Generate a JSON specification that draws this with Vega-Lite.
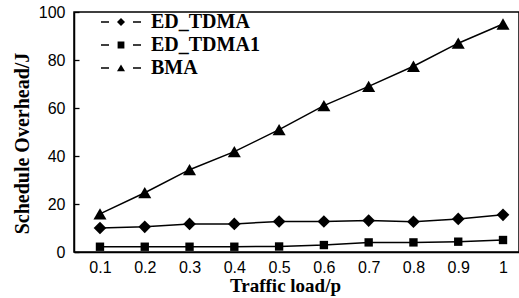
{
  "$schema": "https://vega.github.io/schema/vega-lite/v6.json",
  "autosize": "none",
  "width": 445,
  "height": 240,
  "padding": {"left": 74, "top": 12, "right": 0, "bottom": 46},
  "background": "white",
  "config": {
    "view": {"stroke": "black", "strokeWidth": 1.5},
    "axis": {
      "domainColor": "black", "domainWidth": 1.5,
      "labelColor": "black", "titleColor": "black",
      "grid": false, "ticks": false,
      "labelFont": "Liberation Sans", "labelFontSize": 16,
      "titleFont": "Liberation Serif", "titleFontWeight": "bold", "titleFontSize": 19
    }
  },
  "data": {"values": [
    {"series": "ED_TDMA", "load": 0.1, "overhead": 10.0},
    {"series": "ED_TDMA", "load": 0.2, "overhead": 10.5},
    {"series": "ED_TDMA", "load": 0.3, "overhead": 11.7},
    {"series": "ED_TDMA", "load": 0.4, "overhead": 11.7},
    {"series": "ED_TDMA", "load": 0.5, "overhead": 12.7},
    {"series": "ED_TDMA", "load": 0.6, "overhead": 12.7},
    {"series": "ED_TDMA", "load": 0.7, "overhead": 13.1},
    {"series": "ED_TDMA", "load": 0.8, "overhead": 12.6},
    {"series": "ED_TDMA", "load": 0.9, "overhead": 13.8},
    {"series": "ED_TDMA", "load": 1.0, "overhead": 15.5},
    {"series": "ED_TDMA1", "load": 0.1, "overhead": 2.2},
    {"series": "ED_TDMA1", "load": 0.2, "overhead": 2.2},
    {"series": "ED_TDMA1", "load": 0.3, "overhead": 2.2},
    {"series": "ED_TDMA1", "load": 0.4, "overhead": 2.2},
    {"series": "ED_TDMA1", "load": 0.5, "overhead": 2.3},
    {"series": "ED_TDMA1", "load": 0.6, "overhead": 2.9},
    {"series": "ED_TDMA1", "load": 0.7, "overhead": 4.0},
    {"series": "ED_TDMA1", "load": 0.8, "overhead": 4.0},
    {"series": "ED_TDMA1", "load": 0.9, "overhead": 4.3},
    {"series": "ED_TDMA1", "load": 1.0, "overhead": 5.0},
    {"series": "BMA", "load": 0.1, "overhead": 15.9},
    {"series": "BMA", "load": 0.2, "overhead": 24.7},
    {"series": "BMA", "load": 0.3, "overhead": 34.3},
    {"series": "BMA", "load": 0.4, "overhead": 41.8},
    {"series": "BMA", "load": 0.5, "overhead": 51.0},
    {"series": "BMA", "load": 0.6, "overhead": 61.0},
    {"series": "BMA", "load": 0.7, "overhead": 69.0},
    {"series": "BMA", "load": 0.8, "overhead": 77.4},
    {"series": "BMA", "load": 0.9, "overhead": 87.0},
    {"series": "BMA", "load": 1.0, "overhead": 95.0}
  ]},
  "layer": [
    {
      "mark": {"type": "line", "color": "black", "strokeWidth": 1.5},
      "encoding": {
        "x": {
          "field": "load", "type": "quantitative",
          "scale": {"domain": [0.042, 1.0357], "nice": false, "zero": false},
          "axis": {
            "values": [0.1, 0.15, 0.2, 0.25, 0.3, 0.35, 0.4, 0.45, 0.5, 0.55, 0.6, 0.65, 0.7, 0.75, 0.8, 0.85, 0.9, 0.95, 1.0],
            "format": "~g",
            "labelExpr": "round(datum.value*20) % 2 == 0 ? datum.label : ''",
            "grid": true, "gridColor": "black", "gridWidth": 1.3,
            "gridDash": [0, 235, 5, 1000],
            "gridOpacity": {"condition": {"test": "round(datum.value*20) % 2 == 1", "value": 1}, "value": 0},
            "labelPadding": 7,
            "title": "Traffic load/p",
            "titleX": 211, "titleY": 33,
            "titleBaseline": "middle", "titleAlign": "center"
          }
        },
        "y": {
          "field": "overhead", "type": "quantitative",
          "scale": {"domain": [0, 100], "nice": false},
          "axis": {
            "values": [0, 10, 20, 30, 40, 50, 60, 70, 80, 90, 100],
            "labelExpr": "datum.value % 20 == 0 ? datum.label : ''",
            "grid": true, "gridColor": "black", "gridWidth": 1.3,
            "gridDash": [5, 1000],
            "labelPadding": 9,
            "title": "Schedule Overhead/J",
            "titleFontSize": 20,
            "titleAngle": -90,
            "titleX": -52, "titleY": 131,
            "titleBaseline": "middle", "titleAlign": "center"
          }
        },
        "detail": {"field": "series"}
      }
    },
    {
      "mark": {"type": "point", "filled": true, "color": "black", "opacity": 1},
      "encoding": {
        "x": {"field": "load", "type": "quantitative"},
        "y": {"field": "overhead", "type": "quantitative"},
        "shape": {
          "condition": [
            {"test": "datum.series === 'ED_TDMA1'", "value": "square"},
            {"test": "datum.series === 'BMA'", "value": "triangle-up"}
          ],
          "value": "diamond"
        },
        "size": {
          "condition": [
            {"test": "datum.series === 'ED_TDMA1'", "value": 70},
            {"test": "datum.series === 'BMA'", "value": 170}
          ],
          "value": 160
        }
      }
    },
    {
      "transform": [{"filter": "false"}],
      "mark": {"type": "point", "filled": true, "color": "black", "opacity": 1},
      "encoding": {
        "x": {"field": "load", "type": "quantitative"},
        "y": {"field": "overhead", "type": "quantitative"},
        "shape": {
          "field": "series", "type": "nominal",
          "scale": {
            "domain": ["ED_TDMA", "ED_TDMA1", "BMA"],
            "range": [
              "M-5,-0.18H-3V0.18H-5ZM-1,0L0,-1L1,0L0,1ZM3,-0.18H5V0.18H3Z",
              "M-5,-0.18H-3V0.18H-5ZM-0.85,-0.85H0.85V0.85H-0.85ZM3,-0.18H5V0.18H3Z",
              "M-5,-0.18H-3V0.18H-5ZM-1,0.8L0,-0.9L1,0.8ZM3,-0.18H5V0.18H3Z"
            ]
          },
          "legend": {
            "orient": "none", "legendX": 37, "legendY": 0,
            "title": null, "padding": 0,
            "labelFont": "Liberation Serif", "labelFontSize": 20, "labelFontWeight": "bold", "labelColor": "black",
            "symbolSize": 64, "labelOffset": 20, "rowPadding": 3, "symbolOffset": 0,
            "symbolFillColor": "black", "symbolStrokeWidth": 0
          }
        }
      }
    }
  ]
}
